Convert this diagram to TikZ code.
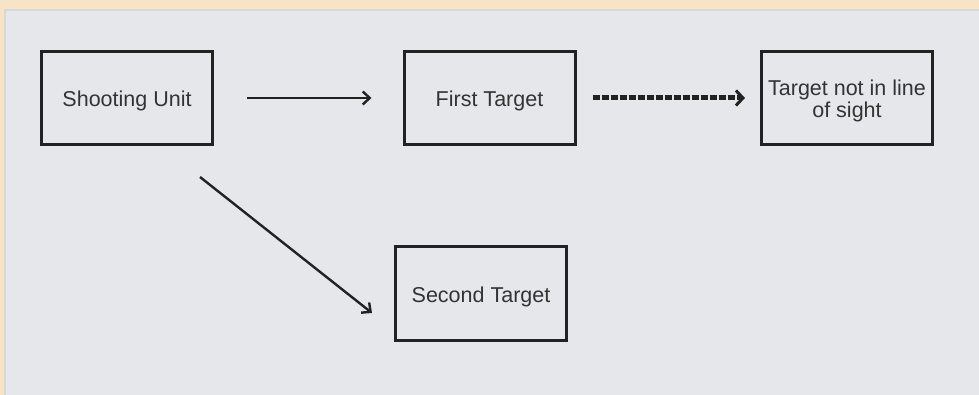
\documentclass[tikz,border=0pt]{standalone}
\usepackage{fontspec}
\setmainfont{Liberation Sans}
\usetikzlibrary{arrows.meta}
\definecolor{outerbg}{HTML}{F7E4C6}
\definecolor{panel}{HTML}{E5E7EA}
\definecolor{panelline}{HTML}{D6D8DB}
\definecolor{ink}{HTML}{222222}
\definecolor{txt}{HTML}{333333}
\newcommand{\boxtext}[1]{\raisebox{-9.5pt}[0pt][0pt]{\begin{tabular}{@{}c@{}}#1\end{tabular}}}
\begin{document}
\begin{tikzpicture}[x=1pt,y=-1pt,
  box/.style={draw=ink,line width=3pt,minimum width=171pt,minimum height=93pt,inner sep=0pt,
    font=\fontsize{21.5}{23}\selectfont,text=txt},
  arr/.style={draw=ink,line width=2.4pt,-{Straight Barb[length=7pt,width=13pt,line width=2.4pt]}},
  darr/.style={draw=ink,line width=5pt,dash pattern=on 7pt off 2pt,-{Straight Barb[length=7pt,width=15pt,line width=3pt]}}]
\useasboundingbox (0,0) rectangle (979,395);
\fill[outerbg] (0,0) rectangle (979,395);
\filldraw[fill=panel,draw=panelline,line width=1.5pt] (5,10) rectangle (990,405);
\node[box] (su) at (127,98) {\boxtext{Shooting Unit}};
\node[box] (ft) at (489.5,98) {\boxtext{First Target}};
\node[box] (tn) at (847,98) {\boxtext{Target not in line\\[-1pt]of sight}};
\node[box] (st) at (481,293.5) {\boxtext{Second Target}};
\draw[arr] ([xshift=33pt]su.east) -- ([xshift=-31pt]ft.west);
\draw[darr] ([xshift=16pt]ft.east) -- ([xshift=-15pt]tn.west);
\draw[arr] ([xshift=73pt,yshift=-31pt]su.south) -- ([xshift=-22pt,yshift=-19.5pt]st.west);
\end{tikzpicture}
\end{document}
